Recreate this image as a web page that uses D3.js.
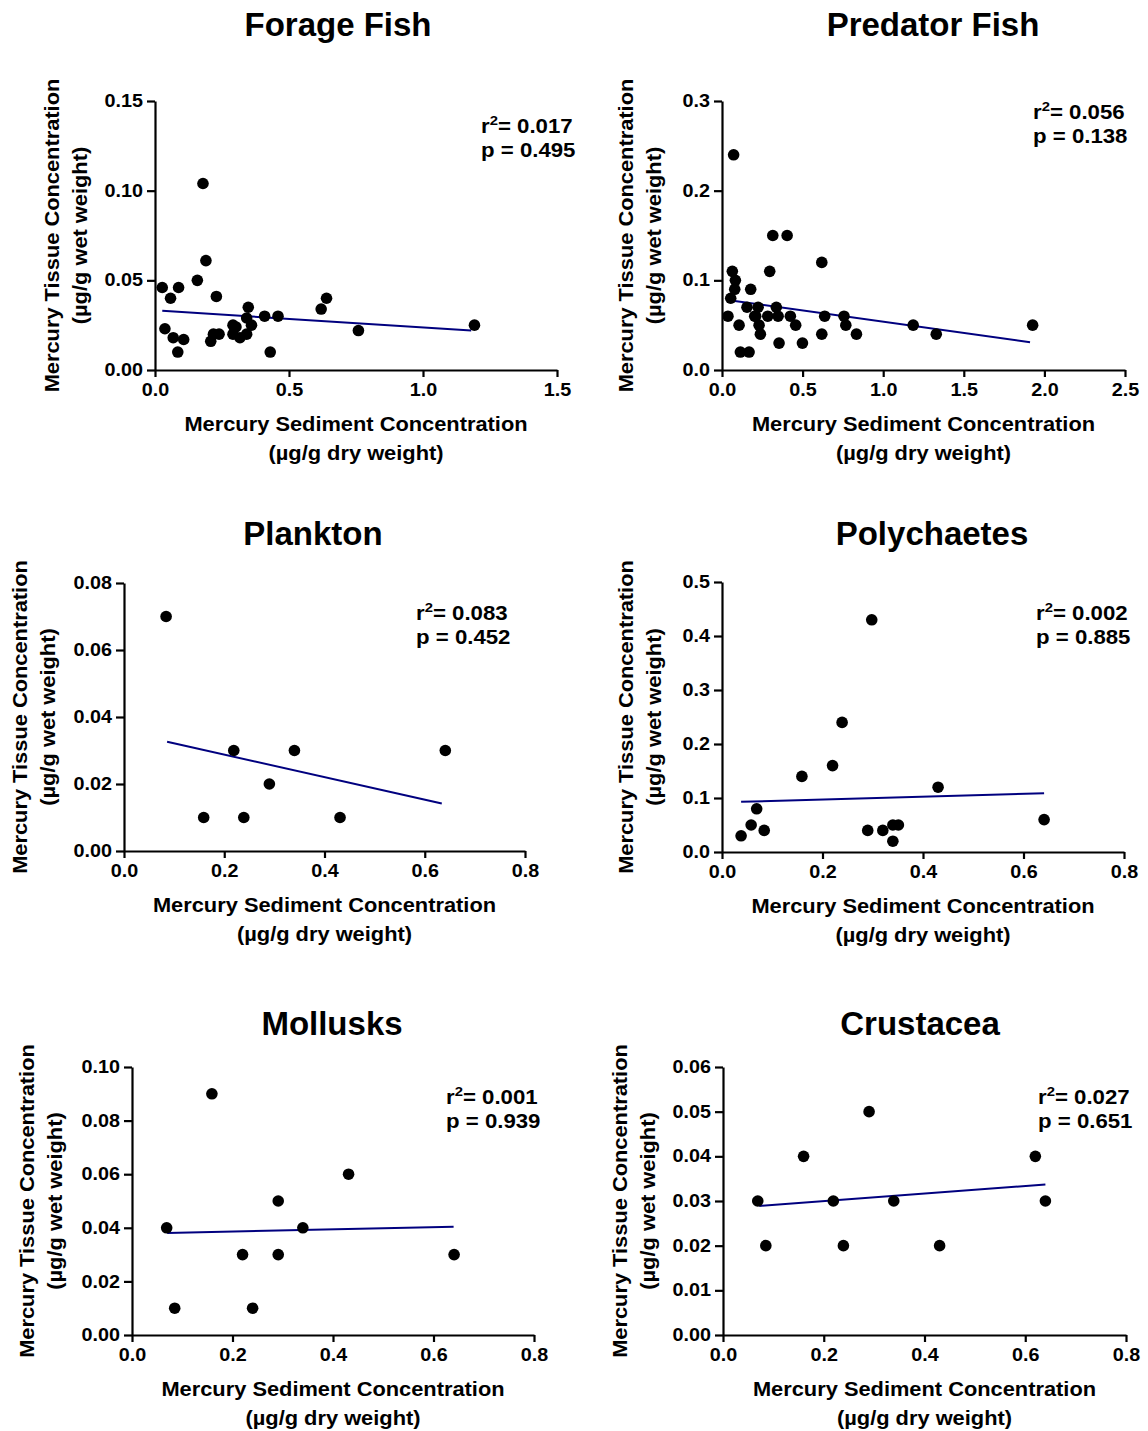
<!DOCTYPE html>
<html>
<head>
<meta charset="utf-8">
<script src="https://cdn.jsdelivr.net/npm/d3@7"></script>
<style>
  body { margin: 0; background: #fff; }
  svg { display: block; }
  text { font-family: "Liberation Sans", Arial, sans-serif; font-weight: bold; fill: #000; }
</style>
</head>
<body>
<svg id="chart" width="1148" height="1431"></svg>
<script>
// values
const titles = ["Forage Fish", "Predator Fish", "Plankton", "Polychaetes", "Mollusks", "Crustacea"];

const forageX = [0.027, 0.058, 0.088, 0.037, 0.068, 0.107, 0.085, 0.158, 0.179, 0.190, 0.229, 0.208, 0.218, 0.239, 0.291,
                 0.302, 0.291, 0.317, 0.342, 0.348, 0.342, 0.360, 0.409, 0.459, 0.430, 0.620, 0.640, 0.759, 1.192];
const forageY = [0.046, 0.040, 0.046, 0.023, 0.018, 0.017, 0.010, 0.050, 0.104, 0.061, 0.041, 0.016, 0.020, 0.020, 0.025,
                 0.024, 0.020, 0.018, 0.020, 0.035, 0.029, 0.025, 0.030, 0.030, 0.010, 0.034, 0.040, 0.022, 0.025];
const forageFit = [[0.027, 0.033], [1.18, 0.022]];

const predatorX = [0.072, 0.315, 0.404, 0.619, 0.064, 0.296, 0.083, 0.079, 0.178, 0.054, 0.155, 0.224, 0.337, 0.209, 0.230,
                   0.238, 0.037, 0.106, 0.284, 0.348, 0.424, 0.457, 0.354, 0.499, 0.114, 0.168, 0.619, 0.637, 0.757, 0.768,
                   0.834, 1.186, 1.329, 1.927, 0.203];
const predatorY = [0.24, 0.15, 0.15, 0.12, 0.11, 0.11, 0.10, 0.09, 0.09, 0.08, 0.07, 0.07, 0.07, 0.06, 0.05,
                   0.04, 0.06, 0.05, 0.06, 0.06, 0.06, 0.05, 0.03, 0.03, 0.02, 0.02, 0.04, 0.06, 0.06, 0.05,
                   0.04, 0.05, 0.04, 0.05, 0.06];
const predatorFit = [[0.079, 0.077], [1.911, 0.031]];

const planktonX = [0.084, 0.159, 0.219, 0.239, 0.290, 0.340, 0.431, 0.641];
const planktonY = [0.07, 0.01, 0.03, 0.01, 0.02, 0.03, 0.01, 0.03];
const planktonFit = [[0.086, 0.0326], [0.634, 0.0142]];

const polyX = [0.038, 0.058, 0.069, 0.084, 0.159, 0.220, 0.239, 0.298, 0.290, 0.320, 0.340, 0.351, 0.340, 0.430, 0.641];
const polyY = [0.03, 0.05, 0.08, 0.04, 0.14, 0.16, 0.24, 0.43, 0.04, 0.04, 0.05, 0.05, 0.02, 0.12, 0.06];
const polyFit = [[0.038, 0.093], [0.641, 0.109]];

const molluskX = [0.069, 0.085, 0.159, 0.220, 0.240, 0.291, 0.291, 0.340, 0.431, 0.641];
const molluskY = [0.04, 0.01, 0.09, 0.03, 0.01, 0.05, 0.03, 0.04, 0.06, 0.03];
const molluskFit = [[0.070, 0.0381], [0.640, 0.0404]];

const crustX = [0.069, 0.085, 0.160, 0.219, 0.239, 0.290, 0.339, 0.430, 0.620, 0.640];
const crustY = [0.03, 0.02, 0.04, 0.03, 0.02, 0.05, 0.03, 0.02, 0.04, 0.03];
const crustFit = [[0.072, 0.0289], [0.640, 0.0337]];

const r2Labels = ["0.017", "0.056", "0.083", "0.002", "0.001", "0.027"];
const pLabels = ["0.495", "0.138", "0.452", "0.885", "0.939", "0.651"];

const xMax = [1.5, 2.5, 0.8, 0.8, 0.8, 0.8];
const xStep = [0.5, 0.5, 0.2, 0.2, 0.2, 0.2];
const yMax = [0.15, 0.3, 0.08, 0.5, 0.10, 0.06];
const yStep = [0.05, 0.1, 0.02, 0.1, 0.02, 0.01];
const yFormat = [".2f", ".1f", ".2f", ".1f", ".2f", ".2f"];

const xLabel = ["Mercury Sediment Concentration", "(\u00b5g/g dry weight)"];
const yLabel = ["Mercury Tissue Concentration", "(\u00b5g/g wet weight)"];

// panel placement in the page
const layout = [
    { l: 155, r: 557, t: 101, b: 370, tx: 338, ty: 36, sx: 481, sy: 133, ylx: 52 },
    { l: 722, r: 1125, t: 101, b: 370, tx: 933, ty: 36, sx: 1033, sy: 119, ylx: 626 },
    { l: 124, r: 525, t: 583, b: 851, tx: 313, ty: 545, sx: 416, sy: 620, ylx: 20 },
    { l: 722, r: 1124, t: 582, b: 852, tx: 932, ty: 545, sx: 1036, sy: 620, ylx: 626 },
    { l: 132, r: 534, t: 1067, b: 1335, tx: 332, ty: 1035, sx: 446, sy: 1104, ylx: 27 },
    { l: 723, r: 1126, t: 1067, b: 1335, tx: 920, ty: 1035, sx: 1038, sy: 1104, ylx: 620 }
];

const series = [
    [forageX, forageY, forageFit],
    [predatorX, predatorY, predatorFit],
    [planktonX, planktonY, planktonFit],
    [polyX, polyY, polyFit],
    [molluskX, molluskY, molluskFit],
    [crustX, crustY, crustFit]
];

// the source text is set a bit wide
const SX_TICK = 1.13, SX_LABEL = 1.12, SX_STAT = 1.14;
const svg = d3.select('#chart');

function ticks(max, step) {
    let out = [];
    for (let i = 0; i <= Math.round(max / step); i++) out.push(+(i * step).toFixed(4));
    return out;
}

series.forEach(function (s, i) {
    let L = layout[i];
    let g = svg.append('g');

    let x = d3.scaleLinear().domain([0, xMax[i]]).range([L.l, L.r]);
    let y = d3.scaleLinear().domain([0, yMax[i]]).range([L.b, L.t]);

    // title
    g.append('text')
        .attr('x', L.tx).attr('y', L.ty)
        .attr('text-anchor', 'middle')
        .style('font-size', '33px')
        .text(titles[i]);

    // axes
    let xAxis = g.append('g')
        .attr('transform', `translate(0,${L.b})`)
        .call(d3.axisBottom(x).tickValues(ticks(xMax[i], xStep[i])).tickFormat(d3.format('.1f'))
            .tickSize(7).tickSizeOuter(0).tickPadding(7));
    let yAxis = g.append('g')
        .attr('transform', `translate(${L.l},0)`)
        .call(d3.axisLeft(y).tickValues(ticks(yMax[i], yStep[i])).tickFormat(d3.format(yFormat[i]))
            .tickSize(8).tickSizeOuter(0));

    [xAxis, yAxis].forEach(function (a) {
        a.selectAll('.domain, .tick line').attr('stroke', '#000').attr('stroke-width', 2.2);
        a.selectAll('text')
            .style('font-family', '"Liberation Sans", Arial, sans-serif')
            .style('font-weight', 'bold')
            .style('font-size', '17.5px')
            .attr('fill', '#000');
    });
    xAxis.selectAll('text').attr('transform', `scale(${SX_TICK},1)`);
    yAxis.selectAll('text').attr('x', -12 / SX_TICK).attr('transform', `scale(${SX_TICK},1)`);

    // axis titles
    let xMid = (L.l + L.r) / 2;
    xLabel.forEach(function (t, k) {
        g.append('text')
            .attr('transform', `translate(${xMid},${L.b + 61 + k * 29}) scale(${SX_LABEL},1)`)
            .attr('text-anchor', 'middle')
            .style('font-size', '19.5px')
            .text(t);
    });
    let yMid = (L.t + L.b) / 2;
    yLabel.forEach(function (t, k) {
        g.append('text')
            .attr('transform', `translate(${L.ylx + 7 + k * 28},${yMid}) rotate(-90) scale(${SX_LABEL},1)`)
            .attr('text-anchor', 'middle')
            .style('font-size', '19.5px')
            .text(t);
    });

    // fit line
    g.append('line')
        .attr('x1', x(s[2][0][0])).attr('y1', y(s[2][0][1]))
        .attr('x2', x(s[2][1][0])).attr('y2', y(s[2][1][1]))
        .attr('stroke', '#00007f')
        .attr('stroke-width', 2);

    // points
    g.selectAll('.dot')
        .data(s[0].map(function (d, k) { return [d, s[1][k]]; }))
        .enter().append('circle')
        .attr('cx', function (d) { return x(d[0]); })
        .attr('cy', function (d) { return y(d[1]); })
        .attr('r', 5.8)
        .attr('fill', '#000');

    // stats
    let st = g.append('text')
        .attr('transform', `translate(${L.sx},${L.sy}) scale(${SX_STAT},1)`)
        .style('font-size', '19.5px');
    st.append('tspan').text('r');
    st.append('tspan').attr('dy', -8).style('font-size', '13px').text('2');
    st.append('tspan').attr('dy', 8).text('= ' + r2Labels[i]);
    g.append('text')
        .attr('transform', `translate(${L.sx},${L.sy + 24}) scale(${SX_STAT},1)`)
        .style('font-size', '19.5px')
        .text('p = ' + pLabels[i]);
});
</script>
</body>
</html>
